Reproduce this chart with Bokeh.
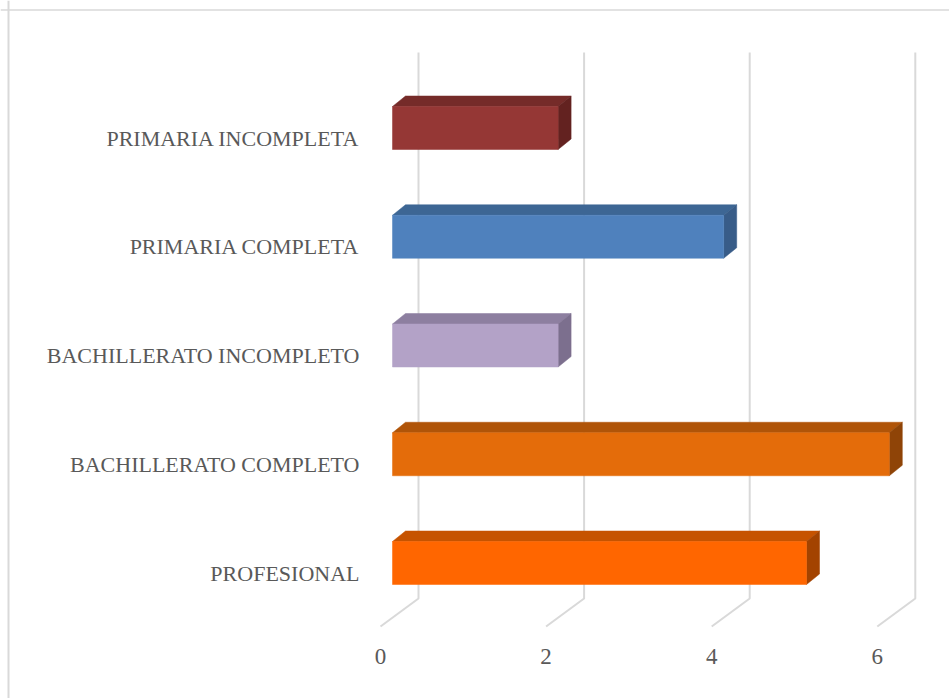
from bokeh.plotting import figure
from bokeh.models import Range1d, ColumnDataSource, Span
from bokeh.core.properties import value
from bokeh.embed import file_html
from bokeh.resources import INLINE

# ---- data ----
categories = ["PROFESIONAL", "BACHILLERATO COMPLETO", "BACHILLERATO INCOMPLETO",
              "PRIMARIA COMPLETA", "PRIMARIA INCOMPLETA"]
values = [5, 6, 2, 4, 2]
front_colors = ["#ff6600", "#e46c0a", "#b3a2c7", "#4f81bd", "#953735"]
top_colors = ["#c65300", "#b05408", "#8d7fa0", "#3d6694", "#752b29"]
side_colors = ["#a34300", "#8f4407", "#7c6f8e", "#385c88", "#632220"]
tick_values = [0, 2, 4, 6]
tick_labels = ["0", "2", "4", "6"]

# ---- geometry (styling) ----
W, H = 949, 698
PX_X = 82.8      # px per value unit
PX_Y = 108.75    # px per category step
X0 = 392         # pixel of value 0 on bar front
Y0 = 562.5       # pixel of first category centre

def xu(px):
    return px / PX_X

def yu(px):
    return px / PX_Y

half_h = yu(21.5)
depth_dx = xu(13)
depth_dy = yu(10.5)
wall_dx = xu(26)
floor_dx = xu(-12)
wall_top = yu(Y0 - 52)
wall_bottom = yu(Y0 - 598)
floor_front = yu(Y0 - 626)

p = figure(width=W, height=H, output_backend="svg", toolbar_location=None,
           x_range=Range1d(-X0 / PX_X, (W - X0) / PX_X),
           y_range=Range1d((Y0 - H) / PX_Y, Y0 / PX_Y),
           min_border=0, min_border_left=0, min_border_right=0,
           min_border_top=0, min_border_bottom=0)
p.axis.visible = False
p.grid.visible = False
p.outline_line_color = None
p.background_fill_color = "white"
p.border_fill_color = "white"

# chart border (top and left visible)
p.add_layout(Span(location=xu(8 - X0), dimension="height", line_color="#d9d9d9", line_width=2))
p.add_layout(Span(location=yu(Y0 - 9.5), dimension="width", line_color="#d9d9d9", line_width=1.5))

# back-wall gridlines and floor diagonals
gx, gy = [], []
for t in tick_values:
    xb = t + wall_dx
    xf = t + floor_dx
    gx.append([xb, xb, xf])
    gy.append([wall_top, wall_bottom, floor_front])
p.multi_line(xs=gx, ys=gy, line_color="#d9d9d9", line_width=2)

# bars
ys = list(range(len(categories)))
front = ColumnDataSource(dict(left=[0] * len(values), right=values,
                              bottom=[y - half_h for y in ys], top=[y + half_h for y in ys],
                              color=front_colors))
top_xs, top_ys, side_xs, side_ys = [], [], [], []
for v, y in zip(values, ys):
    top_xs.append([0, v, v + depth_dx, depth_dx])
    top_ys.append([y + half_h, y + half_h, y + half_h + depth_dy, y + half_h + depth_dy])
    side_xs.append([v, v, v + depth_dx, v + depth_dx])
    side_ys.append([y - half_h, y + half_h, y + half_h + depth_dy, y - half_h + depth_dy])
p.patches(xs=top_xs, ys=top_ys, fill_color=top_colors, line_color=top_colors, line_width=0.5)
p.patches(xs=side_xs, ys=side_ys, fill_color=side_colors, line_color=side_colors, line_width=0.5)
p.quad(left="left", right="right", bottom="bottom", top="top", source=front,
       fill_color="color", line_color="color", line_width=0.5)

# category labels
p.text(x=[xu(359 - X0)] * len(categories), y=[y - yu(10) for y in ys], text=categories,
       text_font=value("Liberation Serif"), text_font_size="22px", text_color="#595959",
       text_align="right", text_baseline="middle")

# value tick labels
p.text(x=[t + floor_dx for t in tick_values], y=[yu(Y0 - 656)] * len(tick_values), text=tick_labels,
       text_font=value("Liberation Serif"), text_font_size="23px", text_color="#595959",
       text_align="center", text_baseline="middle")

open("out.html", "w").write(file_html(p, INLINE))
